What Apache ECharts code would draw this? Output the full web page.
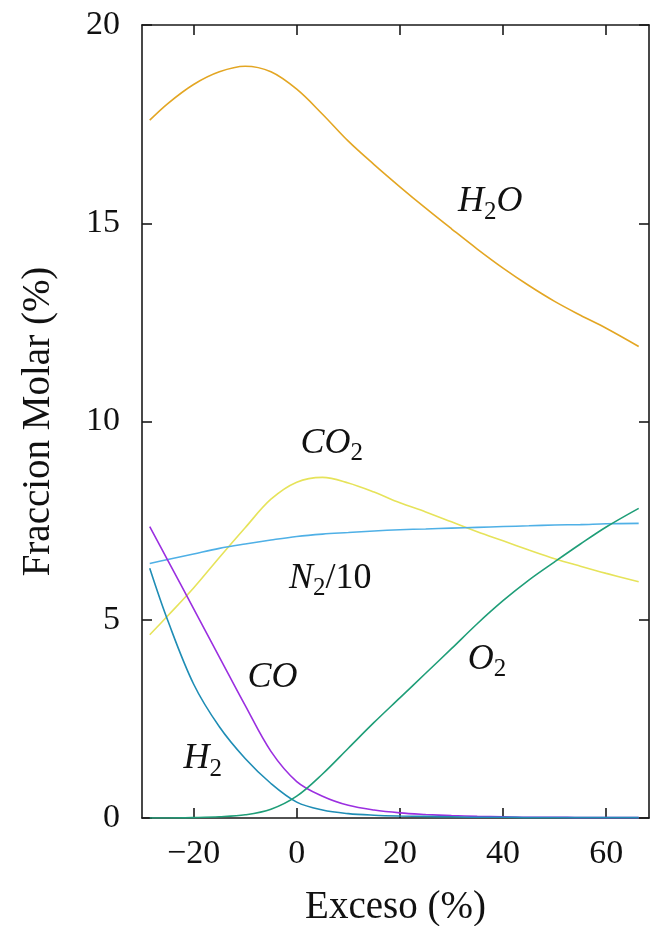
<!DOCTYPE html>
<html>
<head>
<meta charset="utf-8">
<script src="https://cdn.jsdelivr.net/npm/echarts@6/dist/echarts.min.js"></script>
<style>
html,body{margin:0;padding:0;background:#fff;}
#chart{width:651px;height:926px;}
</style>
</head>
<body>
<div id="chart"></div>
<script>
// Exceso (%) sample positions
var exceso = [-28.5,-25,-20,-15,-10,-5,0,5,10,15,20,25,30,35,40,45,50,55,60,66.3];
var h2o  = [17.60,18.02,18.50,18.82,18.96,18.82,18.38,17.75,17.07,16.48,15.92,15.38,14.86,14.35,13.87,13.43,13.03,12.68,12.35,11.89];
var co2  = [4.62,5.10,5.80,6.57,7.32,8.04,8.47,8.59,8.45,8.22,7.95,7.72,7.47,7.22,6.99,6.76,6.54,6.35,6.17,5.96];
var n2_10= [6.42,6.52,6.66,6.80,6.91,7.01,7.10,7.16,7.20,7.24,7.27,7.29,7.31,7.33,7.35,7.37,7.39,7.40,7.42,7.43];
var co   = [7.35,6.50,5.28,4.06,2.84,1.68,0.92,0.55,0.32,0.20,0.13,0.09,0.06,0.04,0.03,0.02,0.02,0.01,0.01,0.01];
var h2   = [6.30,4.98,3.38,2.30,1.50,0.87,0.40,0.20,0.11,0.07,0.05,0.04,0.03,0.02,0.02,0.01,0.01,0.01,0.01,0.01];
var o2   = [0.00,0.00,0.01,0.03,0.08,0.22,0.55,1.11,1.76,2.41,3.03,3.65,4.27,4.90,5.48,6.00,6.46,6.91,7.34,7.81];

var xTicks = [-20,0,20,40,60];
var yTicks = [0,5,10,15,20];

// in-plot labels (data coordinates)
var labelX = [37.5, 6.8, 6.5, -4.7, 36.9, -18.2];
var labelY = [15.55, 9.45, 6.05, 3.55, 4.0, 1.5];
var labelRich = [
  '{i|H}{s|2}{i|O}',
  '{i|CO}{s|2}',
  '{i|N}{s|2}{r|/10}',
  '{i|CO}',
  '{i|O}{s|2}',
  '{i|H}{s|2}'
];

var seriesDefs = [
  {name:'H2O', data:h2o, color:'#e3a623'},
  {name:'CO2', data:co2, color:'#e6e35a'},
  {name:'N2/10', data:n2_10, color:'#4fb0e6'},
  {name:'CO', data:co, color:'#9b2fe0'},
  {name:'H2', data:h2, color:'#1f8db5'},
  {name:'O2', data:o2, color:'#1f9e78'}
];

var FONT = '"Liberation Serif", "DejaVu Serif", serif';
var TXT = '#111';
var AX = '#1a1a1a';

var series = seriesDefs.map(function(s){
  return {
    type:'line', name:s.name, smooth:0.35, showSymbol:false,
    data: exceso.map(function(x,i){return [x, s.data[i]];}),
    lineStyle:{color:s.color, width:1.6},
    itemStyle:{color:s.color},
    z:3
  };
});

series.push({
  type:'scatter', symbolSize:0, silent:true, z:5,
  itemStyle:{opacity:1},
  data: labelX.map(function(x,i){return [x,labelY[i]];}),
  label:{
    show:true, position:'inside', opacity:1,
    formatter:function(p){return labelRich[p.dataIndex];},
    color:TXT,
    rich:{
      i:{fontFamily:FONT, fontStyle:'italic', fontSize:36, color:TXT, lineHeight:46, verticalAlign:'middle'},
      r:{fontFamily:FONT, fontSize:36, color:TXT, lineHeight:46, verticalAlign:'middle'},
      s:{fontFamily:FONT, fontSize:25, color:TXT, lineHeight:46, verticalAlign:'bottom'}
    }
  }
});

var chart = echarts.init(document.getElementById('chart'), null, {renderer:'canvas'});
chart.setOption({
  animation:false,
  backgroundColor:'#fff',
  grid:{left:142, top:25, right:2, bottom:108, show:false, containLabel:false, outerBoundsMode:'none'},
  xAxis:[{
    type:'value', min:-30, max:68.3, position:'bottom',
    name:'Exceso (%)', nameLocation:'middle', nameGap:70,
    nameTextStyle:{fontFamily:FONT, fontSize:39, color:TXT},
    axisLine:{show:true, onZero:false, lineStyle:{color:AX, width:1.6}},
    axisTick:{show:true, inside:true, length:10, customValues:xTicks, lineStyle:{color:AX, width:1.6}},
    axisLabel:{show:true, customValues:xTicks, margin:19, fontFamily:FONT, fontSize:34, color:TXT,
      formatter:function(v){return v<0 ? '\u2212'+Math.abs(v) : String(v);}},
    splitLine:{show:false}
  },{
    type:'value', min:-30, max:68.3, position:'top',
    axisLine:{show:true, onZero:false, lineStyle:{color:AX, width:1.6}},
    axisTick:{show:true, inside:true, length:10, customValues:xTicks, lineStyle:{color:AX, width:1.6}},
    axisLabel:{show:false}, splitLine:{show:false}
  }],
  yAxis:[{
    type:'value', min:0, max:20, interval:5, position:'left',
    name:'Fraccion Molar (%)', nameLocation:'middle', nameRotate:90, nameGap:84,
    nameTextStyle:{fontFamily:FONT, fontSize:39, color:TXT},
    axisLine:{show:true, onZero:false, lineStyle:{color:AX, width:1.6}},
    axisTick:{show:true, inside:true, length:10, customValues:yTicks, lineStyle:{color:AX, width:1.6}},
    axisLabel:{show:true, customValues:yTicks, margin:22, fontFamily:FONT, fontSize:34, color:TXT},
    splitLine:{show:false}
  },{
    type:'value', min:0, max:20, interval:5, position:'right',
    axisLine:{show:true, onZero:false, lineStyle:{color:AX, width:1.6}},
    axisTick:{show:true, inside:true, length:10, customValues:yTicks, lineStyle:{color:AX, width:1.6}},
    axisLabel:{show:false}, splitLine:{show:false}
  }],
  series: series
});
</script>
</body>
</html>
